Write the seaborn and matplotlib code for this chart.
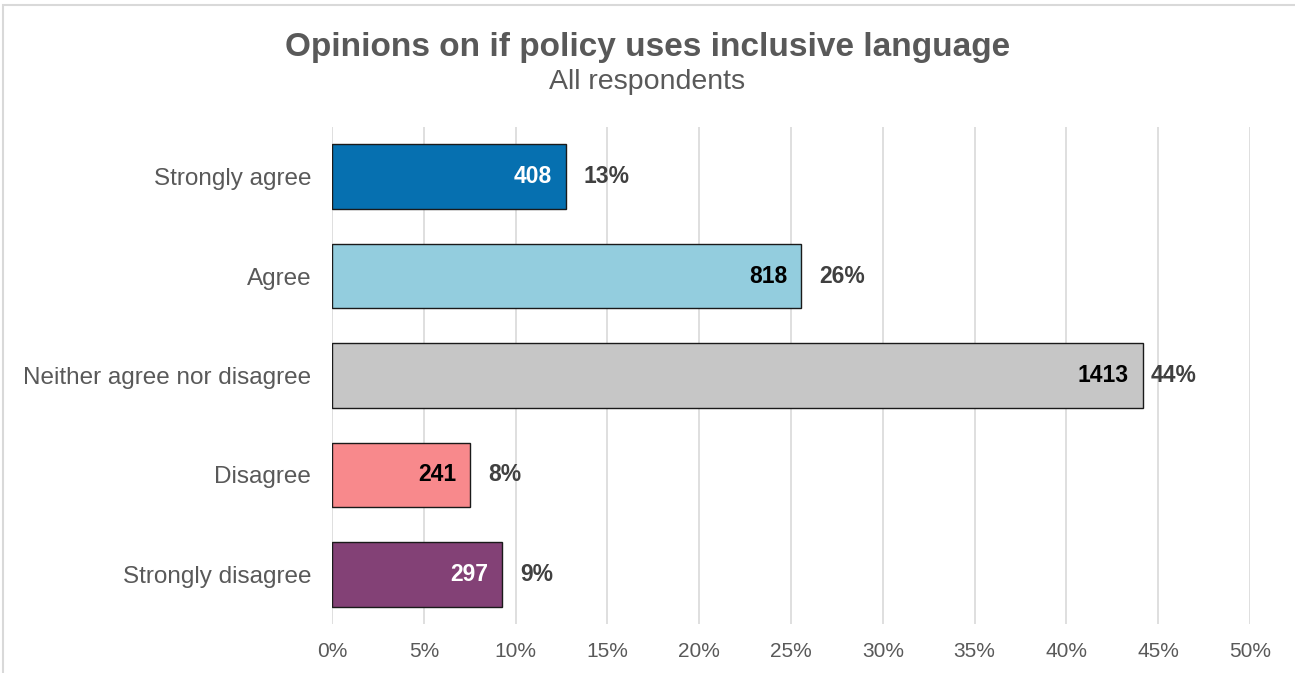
import matplotlib
matplotlib.use("Agg")
import matplotlib.pyplot as plt
import seaborn as sns
import pandas as pd
from matplotlib.patches import Rectangle

categories = ["Strongly agree", "Agree", "Neither agree nor disagree", "Disagree", "Strongly disagree"]
counts = [408, 818, 1413, 241, 297]
respondents = 3200  # all respondents, including those not shown in the five answer options
bar_colors = ["#0670B0", "#93CDDE", "#C6C6C6", "#F8898C", "#834176"]
count_text_colors = ["white", "black", "black", "black", "white"]
xtick_values = [0, 5, 10, 15, 20, 25, 30, 35, 40, 45, 50]

shares = [100 * c / respondents for c in counts]
df = pd.DataFrame({"category": categories, "share": shares, "count": counts})

sns.set_theme(style="white")
plt.rcParams["font.family"] = ["Liberation Sans", "DejaVu Sans"]

fig = plt.figure(figsize=(12.95, 6.73), dpi=100)
ax = fig.add_axes([0.2564, 0.0728, 0.9653 - 0.2564, 0.8113 - 0.0728])

sns.barplot(data=df, y="category", x="share", hue="category", palette=bar_colors,
            order=categories, hue_order=categories, orient="h", width=0.65,
            saturation=1, legend=False, edgecolor="#1a1a1a", linewidth=1.0,
            ax=ax, zorder=3)

ax.set_xlim(0, 50)
ax.set_ylim(4.5, -0.5)
ax.set_xticks(xtick_values)
ax.set_xticklabels([f"{v}%" for v in xtick_values], color="#595959", fontsize=15)
ax.tick_params(axis="x", length=0, pad=13)
ax.tick_params(axis="y", length=0, pad=15, labelsize=17.5, labelcolor="#595959")
ax.set_xlabel("")
ax.set_ylabel("")
ax.grid(axis="x", color="#D9D9D9", linewidth=1.2, zorder=0)
ax.set_axisbelow(True)
for s in ax.spines.values():
    s.set_visible(False)

for i, (sh, c) in enumerate(zip(shares, counts)):
    ax.text(sh - 0.75, i, f"{c}", ha="right", va="center", fontsize=16.5,
            fontweight="bold", color=count_text_colors[i], zorder=5)
    ax.text(sh + 0.45 if sh > 40 else sh + 0.95, i, f"{sh:.0f}%", ha="left", va="center",
            fontsize=16.5, fontweight="bold", color="#404040", zorder=5)

fig.text(0.5, 0.930, "Opinions on if policy uses inclusive language", ha="center",
         va="center", fontsize=24, fontweight="bold", color="#595959")
fig.text(0.5, 0.878, "All respondents", ha="center", va="center", fontsize=20.5,
         color="#595959")

# light frame around the chart area
fig.patches.append(Rectangle((0.0025, -0.02), 1.2, 1.012, transform=fig.transFigure,
                             fill=False, edgecolor="#D9D9D9", linewidth=1.5))

fig.savefig("out.png", dpi=100)
